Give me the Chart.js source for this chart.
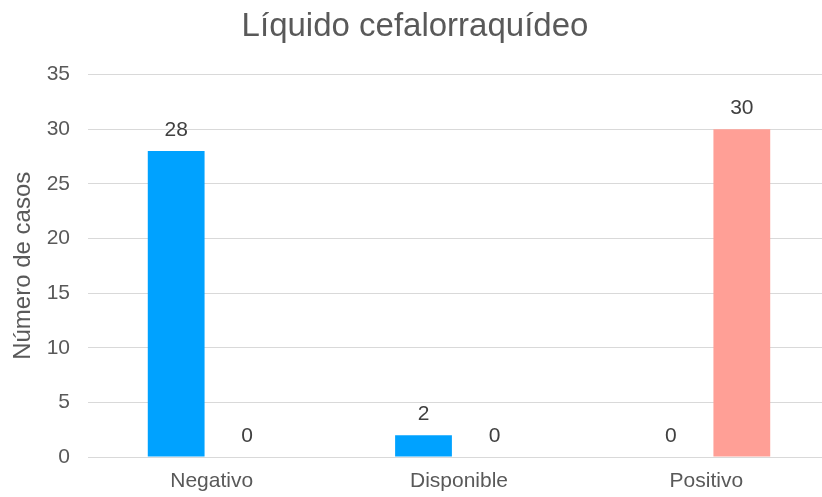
<!DOCTYPE html>
<html lang="es">
<head>
<meta charset="utf-8">
<title>Líquido cefalorraquídeo</title>
<script src="https://cdn.jsdelivr.net/npm/chart.js@4"></script>
<style>
  html,body{margin:0;padding:0;background:#fff;overflow:hidden;}
  #wrap{width:822px;height:497px;overflow:hidden;}
</style>
</head>
<body>
<div id="wrap"><canvas id="chart" width="830" height="497"></canvas></div>
<script>
/* ====== データ ====== */
const categories = ["Negativo", "Disponible", "Positivo"];
const serie1 = [28, 2, 0];
const serie2 = [0, 0, 30];
const yTicks = [0, 5, 10, 15, 20, 25, 30, 35];

const FONT = "'Liberation Sans', Arial, sans-serif";

/* ====== 値ラベル（棒の上） ====== */
const valueLabels = {
  id: 'valueLabels',
  afterDatasetsDraw(chart){
    const ctx = chart.ctx;
    ctx.save();
    ctx.font = "21px " + FONT;
    ctx.fillStyle = '#404040';
    ctx.textAlign = 'center';
    ctx.textBaseline = 'alphabetic';
    chart.data.datasets.forEach((ds, i) => {
      chart.getDatasetMeta(i).data.forEach((bar, j) => {
        ctx.fillText(String(ds.data[j]), bar.x, bar.y - 15);
      });
    });
    ctx.restore();
  }
};

new Chart(document.getElementById('chart'), {
  type: 'bar',
  data: {
    labels: categories,
    datasets: [
      {label: 'Serie 1', data: serie1, backgroundColor: '#00a2ff'},
      {label: 'Serie 2', data: serie2, backgroundColor: '#ff9f96'}
    ]
  },
  options: {
    responsive: false,
    devicePixelRatio: 1,
    animation: false,
    categoryPercentage: 0.574,
    barPercentage: 0.8,
    layout: {padding: 0},
    plugins: {
      legend: {display: false},
      tooltip: {enabled: false},
      title: {
        display: true,
        text: 'Líquido cefalorraquídeo',
        color: '#595959',
        font: {family: FONT, size: 33, weight: 'normal'},
        padding: {top: 7, bottom: 28}
      }
    },
    scales: {
      x: {
        afterFit: s => { s.height = 40; },
        grid: {display: false, drawTicks: false},
        border: {display: false},
        ticks: {color: '#595959', font: {family: FONT, size: 21}, padding: 12}
      },
      y: {
        min: 0,
        max: 35,
        afterBuildTicks: s => { s.ticks = yTicks.map(v => ({value: v})); },
        afterFit: s => { s.width = 88; },
        grid: {color: '#d9d9d9', lineWidth: 1, drawTicks: false},
        border: {display: false},
        ticks: {color: '#595959', font: {family: FONT, size: 21}, padding: 18},
        title: {
          display: true,
          text: 'Número de casos',
          color: '#595959',
          font: {family: FONT, size: 24},
          padding: {top: 9, bottom: 0}
        }
      }
    }
  },
  plugins: [valueLabels]
});
</script>
</body>
</html>
